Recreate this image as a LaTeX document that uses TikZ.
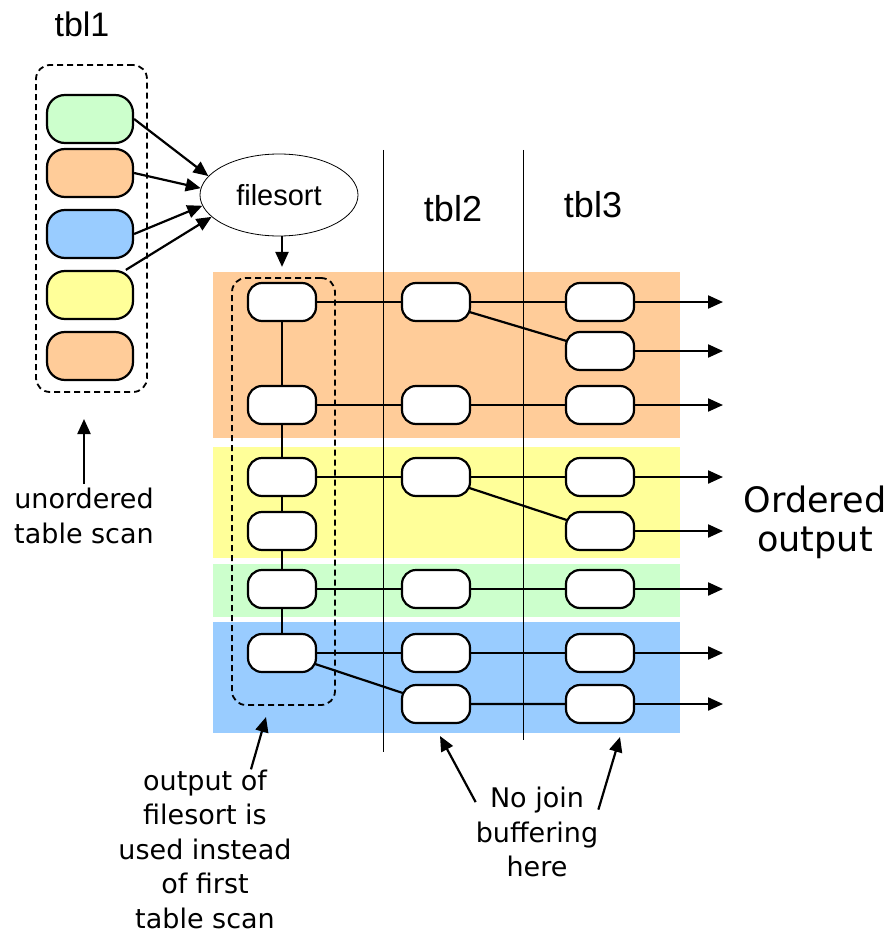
\documentclass[tikz,border=0pt]{standalone}
\usepackage{fontspec}
\setmainfont{Liberation Sans}
\newfontfamily\handfont{DejaVu Sans}
\usepackage{xcolor}
\usetikzlibrary{arrows.meta,shapes.geometric,positioning,backgrounds}
\definecolor{ink}{HTML}{000000}
\definecolor{mint}{HTML}{CCFFCC}
\definecolor{peach}{HTML}{FFCC99}
\definecolor{sky}{HTML}{99CCFF}
\definecolor{lemon}{HTML}{FFFF99}
\tikzset{
  cell/.style={draw=ink,fill=white,line width=2.2pt,rounded corners=14pt,
               minimum width=68pt,minimum height=38pt,inner sep=0pt},
  scancell/.style={cell,minimum width=86pt,minimum height=48pt,rounded corners=18pt},
  dashbox/.style={draw=ink,line width=1.8pt,dash pattern=on 6pt off 4pt,
                  rounded corners=14pt,inner sep=0pt},
  link/.style={draw=ink,line width=2.2pt},
  flow/.style={link,-{Triangle[length=15pt,width=13pt]}},
  hand/.style={font=\handfont\fontsize{27}{34.5}\selectfont,align=center,inner sep=0pt},
  heading/.style={font=\fontsize{36}{40}\selectfont,inner sep=0pt,anchor=base},
  separator/.style={draw=ink,line width=1pt}
}

\begin{document}
\begin{tikzpicture}[x=1pt,y=-1pt]
  \useasboundingbox (0,0) rectangle (893,936);

  \node[heading,font=\fontsize{34}{40}\selectfont] (h1) at (82,37) {tbl1};
  \node[heading] (h2) at (453,221) {tbl2};
  \node[heading] (h3) at (593,217) {tbl3};

  % first table, read in any order
  \node[dashbox,minimum width=111pt,minimum height=327pt] (tbox) at (91.5,228.5) {};
  \node[scancell,fill=mint] (t1) at (90,119) {};
  \node[scancell,fill=peach] (t2) at (90,173) {};
  \node[scancell,fill=sky] (t3) at (90,234) {};
  \node[scancell,fill=lemon] (t4) at (90,295) {};
  \node[scancell,fill=peach] (t5) at (90,356) {};

  \node[draw=ink,line width=0.8pt,ellipse,minimum width=158pt,minimum height=82pt,
        inner sep=0pt,font=\fontsize{29}{30}\selectfont] (fs) at (279,195) {filesort};
  \draw[flow] (t1.east) -- (fs.165);
  \draw[flow] (t2.east) -- (fs.175);
  \draw[flow] (t3.east) -- (fs.188);
  \draw[flow] (t4.35) -- (fs.198);

  % sorted rows, then tbl2 and tbl3
  \node[dashbox,minimum width=103pt,minimum height=427pt] (sbox) at (283.5,491.5) {};
  \node[cell] (f1) at (282,302) {};
  \node[cell] (f2) at (282,405) {};
  \node[cell] (f3) at (282,477) {};
  \node[cell] (f4) at (282,531) {};
  \node[cell] (f5) at (282,589) {};
  \node[cell] (f6) at (282,653) {};

  \node[cell] (u1) at (436,302) {};
  \node[cell] (u2) at (436,405) {};
  \node[cell] (u3) at (436,477) {};
  \node[cell] (u5) at (436,589) {};
  \node[cell] (u6) at (436,653) {};
  \node[cell] (u7) at (436,704) {};

  \node[cell] (v1) at (600,302) {};
  \node[cell] (v2) at (600,351) {};
  \node[cell] (v3) at (600,405) {};
  \node[cell] (v4) at (600,477) {};
  \node[cell] (v5) at (600,531) {};
  \node[cell] (v6) at (600,589) {};
  \node[cell] (v7) at (600,653) {};
  \node[cell] (v8) at (600,704) {};

  \draw[flow,shorten >=15pt] (fs.south -| f1.north) -- (f1.north);

  \begin{scope}[on background layer]
    \fill[peach] (213,272) rectangle (680,438);
    \fill[lemon] (213,447) rectangle (680,558);
    \fill[mint] (213,564) rectangle (680,617);
    \fill[sky] (213,622) rectangle (680,733);
    \draw[separator] (383,150) -- (383,752);
    \draw[separator] (523,150) -- (523,740);
    \draw[link] (f1.center) -- (f2.center) -- (f3.center) -- (f4.center) -- (f5.center) -- (f6.center);
    \draw[link] (f1.center) -- (u1.center) -- (v1.center);
    \draw[link] (u1.center) -- (v2.center);
    \draw[link] (f2.center) -- (u2.center) -- (v3.center);
    \draw[link] (f3.center) -- (u3.center) -- (v4.center);
    \draw[link] (u3.center) -- (v5.center);
    \draw[link] (f5.center) -- (u5.center) -- (v6.center);
    \draw[link] (f6.center) -- (u6.center) -- (v7.center);
    \draw[link] (f6.center) -- (u7.center) -- (v8.center);
  \end{scope}

  \foreach \i/\y in {1/302,2/351,3/405,4/477,5/531,6/589,7/653,8/704} {
    \coordinate (out\i) at (723,\y);
    \draw[flow] (v\i.east) -- (out\i);
  }

  \node[hand,font=\handfont\fontsize{35}{39}\selectfont] (ord) at (815,522) {Ordered\\output};

  \node[hand] (uts) at (84,516) {unordered\\table scan};
  \coordinate (utsTip) at (84,419);
  \draw[flow,shorten <=4pt] (uts.north) -- (utsTip);

  \node[hand] (ofs) at (205,849) {output of\\filesort is\\used instead\\of first\\table scan};
  \coordinate (ofsTip) at (266,717);
  \draw[flow] (ofs.60) -- (ofsTip);

  \node[hand] (nj) at (537,832) {No join\\buffering\\here};
  \coordinate (njTip2) at (440,736);
  \coordinate (njTip3) at (620,737);
  \draw[flow] (nj.154) -- (njTip2);
  \draw[flow] (nj.20) -- (njTip3);
\end{tikzpicture}
\end{document}
